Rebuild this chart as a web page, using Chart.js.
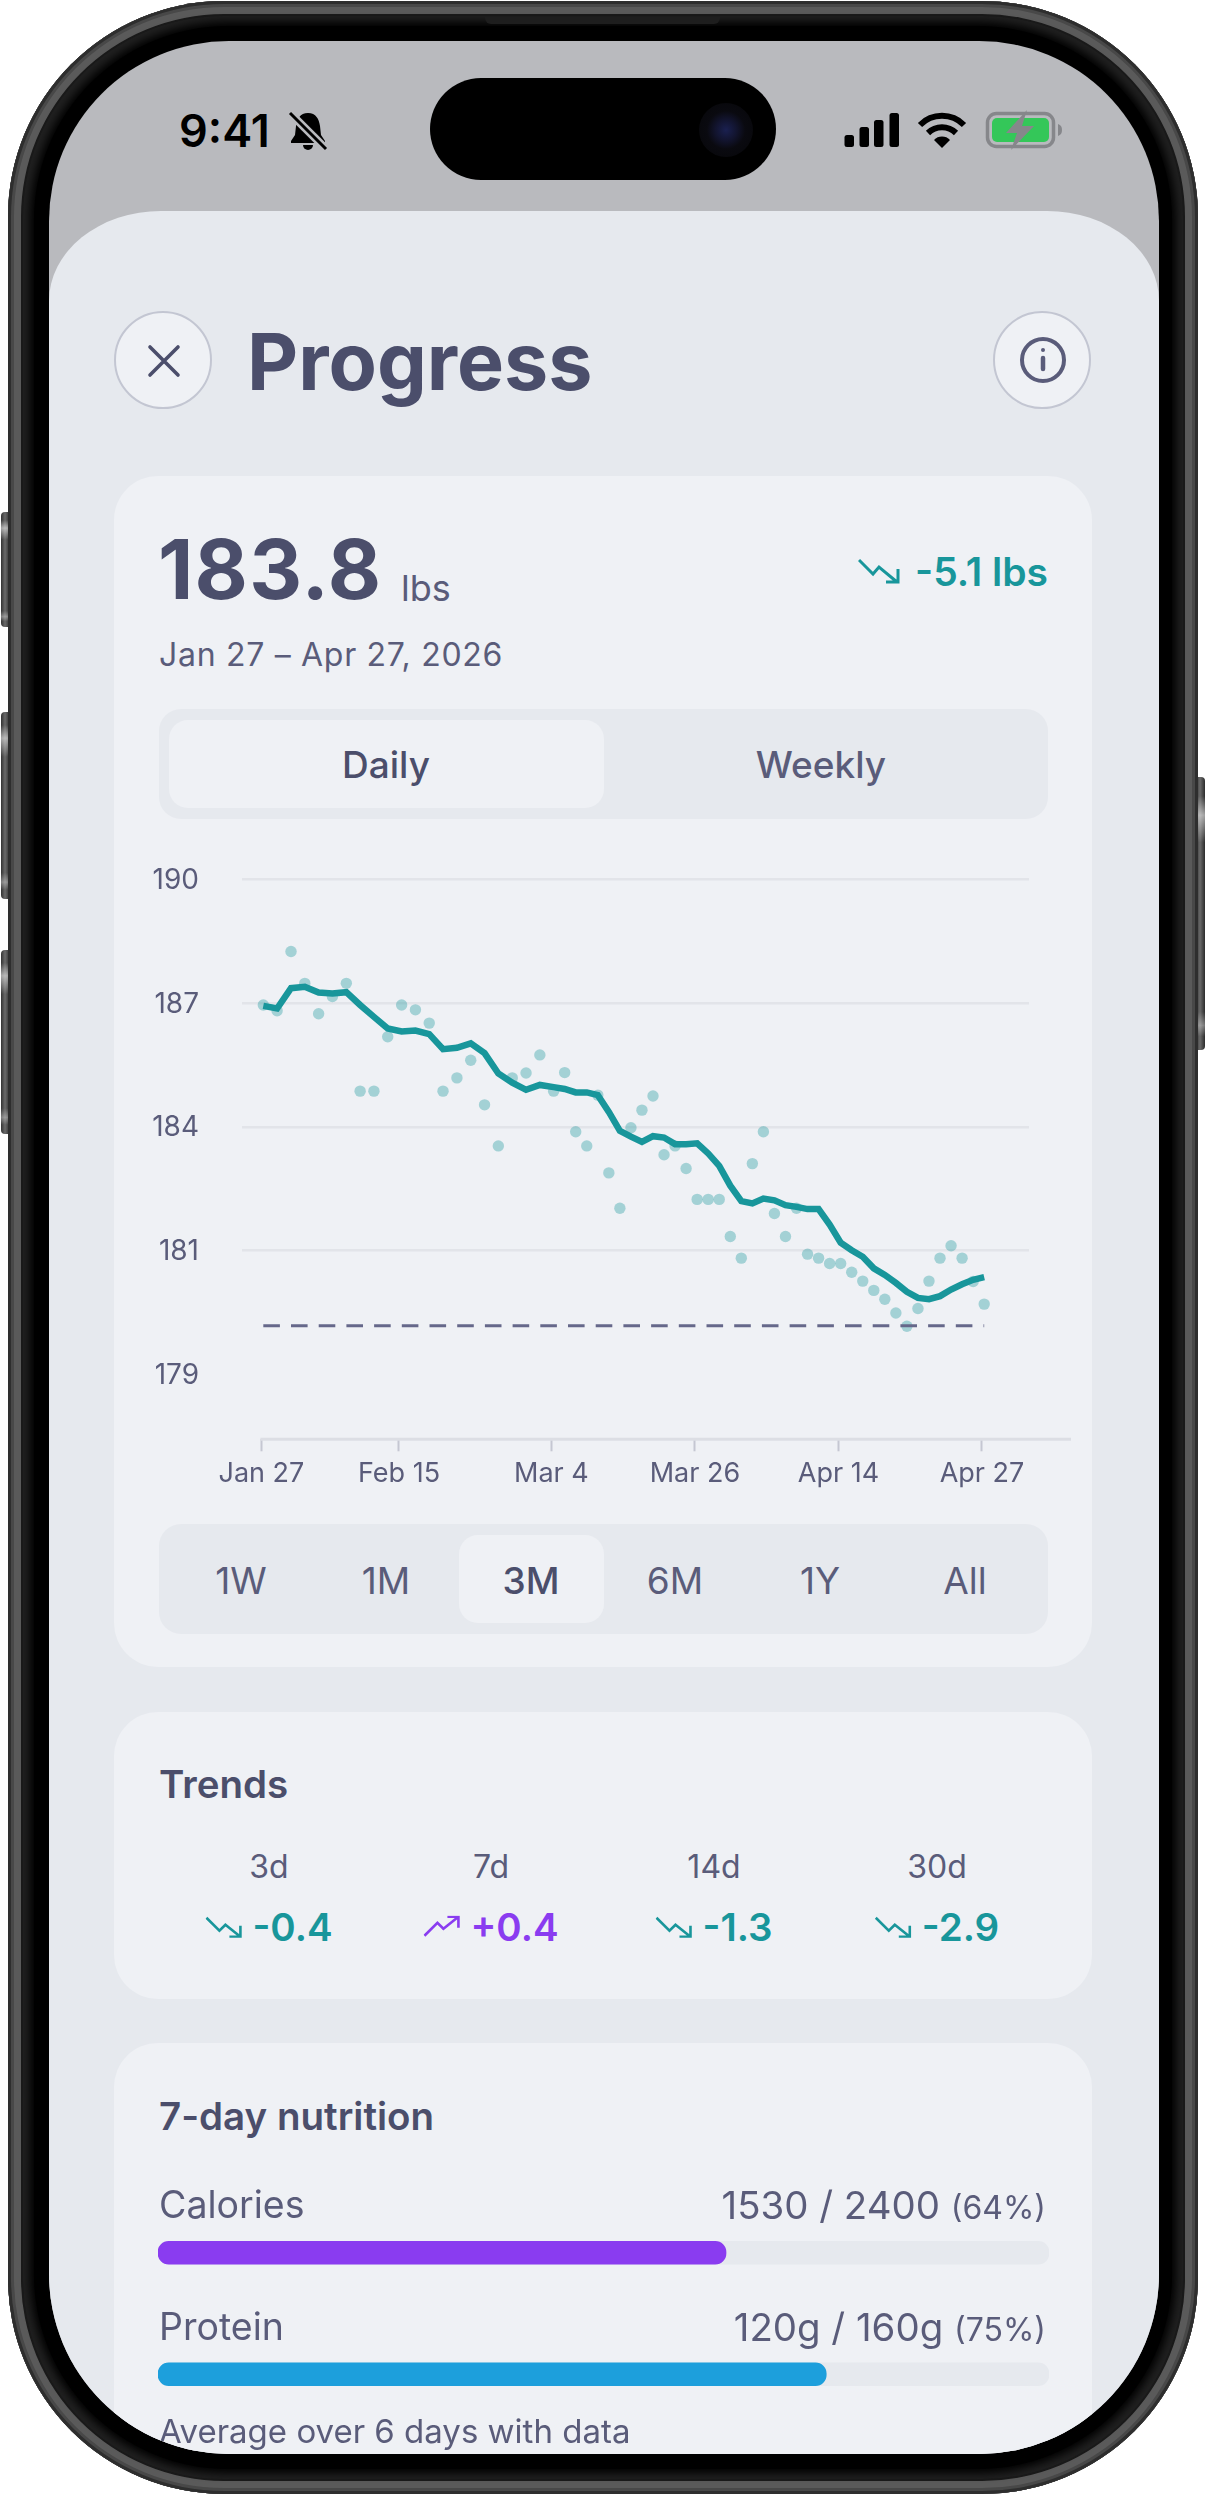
<!DOCTYPE html>
<html>
<head>
<meta charset="utf-8">
<title>Progress</title>
<script src="https://cdn.jsdelivr.net/npm/chart.js@4/dist/chart.umd.min.js"></script>
<style>
    html, body { margin: 0; padding: 0; background: #fff; }
    body { width: 1206px; height: 2495px; position: relative; overflow: hidden; font-family: Inter, sans-serif; color: #5a5c7a; }
    .abs { position: absolute; }
    .txt { position: absolute; line-height: 1; white-space: nowrap; transform: translateY(-50%); }
    .mid { transform: translate(-50%, -50%); }
    .end { transform: translate(-100%, -50%); }
    .dark { color: #4b4e6b; }
    .teal { color: #18969b; }
    .side { position: absolute; background: linear-gradient(180deg, transparent 7%, rgba(255,255,255,.55) 14%, transparent 24%, transparent 86%, rgba(255,255,255,.35) 91%, transparent 95%), linear-gradient(90deg, #333, #6a6a6a 45%, #2c2c2c); }
    #frame { left: 8px; top: 1px; width: 1190px; height: 2493px; border-radius: 216px; background: #202020;
             box-shadow: inset 0 0 0 3px #2e2e2e, inset 0 0 0 6px #484848, inset 0 0 0 13px #5a5a5a, inset 0 0 0 15px #1a1a1a; }
    #bezel { left: 34px; top: 26px; width: 1138px; height: 2443px; border-radius: 194px; background: #000; box-shadow: 0 0 9px 4px #000; }
    #screen { left: 49px; top: 41px; width: 1110px; height: 2413px; border-radius: 180px; overflow: hidden; background: #b9babe; }
    #page { left: -49px; top: -41px; width: 1206px; height: 2495px; }
    #sheet { left: 49px; top: 211px; width: 1110px; height: 2300px; background: #e6e9ee; border-radius: 112px 112px 0 0 / 90px 90px 0 0; }
    .card { position: absolute; left: 114px; width: 978px; background: #eff1f5; border-radius: 44px; }
    .round { position: absolute; width: 94px; height: 94px; border-radius: 50%; background: #eff1f5; border: 2.5px solid #c3c6d2; }
    .pill { position: absolute; background: #e6e9ee; border-radius: 22px; }
    .on { position: absolute; background: #eff1f5; border-radius: 19px; }
    .trend { position: absolute; display: flex; align-items: center; gap: 10px; line-height: 1; top: 1927px; transform: translate(-50%, -50%); font-size: 38.5px; font-weight: 600; white-space: nowrap; }
    canvas { position: absolute; display: block; }
</style>
</head>
<body>
<div class="side" style="left:1px;top:512px;width:9px;height:115px;border-radius:4px 0 0 4px"></div>
<div class="side" style="left:1px;top:712px;width:9px;height:187px;border-radius:4px 0 0 4px"></div>
<div class="side" style="left:1px;top:950px;width:9px;height:184px;border-radius:4px 0 0 4px"></div>
<div class="side" style="left:1196px;top:777px;width:9px;height:273px;border-radius:0 4px 4px 0"></div>

<div class="abs" id="frame"></div>
<div class="abs" id="bezel"></div>
<div class="abs" style="left:485px;top:17px;width:235px;height:7px;background:#1e1e1e;border-radius:0 0 6px 6px"></div>

<div class="abs" id="screen"><div class="abs" id="page">
    <div class="txt" style="left:179px;top:130px;font-size:45px;font-weight:600;color:#000">9:41</div>
    <svg class="abs" style="left:288px;top:111px" width="40" height="40" viewBox="0 0 40 40">
        <path d="M20 2c8 0 11 6 12 13l1 9 4 6v2H3v-2l4-6 1-9C9 8 12 2 20 2z" fill="#000"/>
        <path d="M15 34h10a5 5 0 0 1-10 0z" fill="#000"/>
        <path d="M2 2l36 36" stroke="#b9babe" stroke-width="8"/>
        <path d="M2 2l36 36" stroke="#000" stroke-width="3"/>
    </svg>

    <div class="abs" style="left:430px;top:78px;width:346px;height:102px;border-radius:51px;background:#000"></div>
    <div class="abs" style="left:699px;top:103px;width:54px;height:54px;border-radius:50%;background:radial-gradient(circle,#1a2050 0,#12142e 28%,#0a0a10 50%,#060608 100%)"></div>

    <svg class="abs" style="left:844px;top:112px" width="56" height="36" viewBox="0 0 56 36" fill="#000">
        <rect x="0.5" y="23" width="9.5" height="12" rx="2.5"/>
        <rect x="15.5" y="15" width="9.5" height="20" rx="2.5"/>
        <rect x="30" y="8" width="9.5" height="27" rx="2.5"/>
        <rect x="45.5" y="1" width="9.5" height="34" rx="2.5"/>
    </svg>
    <svg class="abs" style="left:917px;top:112px" width="50" height="36" viewBox="0 0 50 36" fill="none" stroke="#000" stroke-width="6">
        <path d="M3 13a31 31 0 0 1 44 0"/>
        <path d="M11 21a20 20 0 0 1 28 0"/>
        <path d="M17 28l8 8 8-8a11 11 0 0 0-16 0z" fill="#000" stroke="none"/>
    </svg>
    <svg class="abs" style="left:985px;top:110px" width="78" height="40" viewBox="0 0 78 40">
        <rect x="2.5" y="3.5" width="66" height="33" rx="9" fill="none" stroke="#86878b" stroke-width="3.5"/>
        <rect x="7" y="8" width="57" height="24" rx="5" fill="#34c759"/>
        <path d="M73 14c3 1 4 3 4 6s-1 5-4 6z" fill="#86878b"/>
        <path d="M42 0L21 23h11l-6 17 23-24H37z" fill="#86878b"/>
    </svg>

    <div class="abs" id="sheet"></div>

    <div class="round" style="left:114px;top:311px"></div>
    <svg class="abs" style="left:146px;top:343px" width="36" height="36" viewBox="0 0 36 36" stroke="#4b4e6b" stroke-width="3.6" stroke-linecap="round">
        <path d="M4 4l28 28M32 4L4 32"/>
    </svg>
    <div class="txt dark" style="left:247px;top:361px;font-size:79px;font-weight:700">Progress</div>
    <div class="round" style="left:993px;top:311px"></div>
    <svg class="abs" style="left:1017px;top:334px" width="52" height="52" viewBox="0 0 52 52" fill="none" stroke="#5a5c7a" stroke-width="4" stroke-linecap="round">
        <circle cx="26" cy="26" r="21"/>
        <path d="M26 24v11" stroke-width="4.5"/>
        <circle cx="26" cy="16" r="2" fill="#5a5c7a" stroke="none"/>
    </svg>

    <div class="card" style="top:476px;height:1191px"></div>
    <div class="txt dark" style="left:158px;top:570px;font-size:82px;font-weight:700;letter-spacing:1.2px">183.8</div>
    <div class="txt" style="left:401px;top:588px;font-size:36px">lbs</div>
    <svg class="abs" style="left:858px;top:558px" width="42" height="26" viewBox="0 0 42 26" fill="none" stroke="#18969b" stroke-width="3">
        <path d="M1 2l14 14 6-7 18 15M40 11v13H28"/>
    </svg>
    <div class="txt end teal" style="left:1048px;top:571px;font-size:39px;font-weight:600">-5.1 lbs</div>
    <div class="txt" style="left:159px;top:655px;font-size:32px;letter-spacing:0.7px">Jan 27 – Apr 27, 2026</div>

    <div class="pill" style="left:159px;top:709px;width:889px;height:110px"></div>
    <div class="on" style="left:169px;top:720px;width:435px;height:88px"></div>
    <div class="txt mid dark" style="left:386px;top:764px;font-size:37px;font-weight:500">Daily</div>
    <div class="txt mid" style="left:821px;top:764px;font-size:37px;font-weight:500">Weekly</div>

    <canvas id="weightChart" style="left:130px;top:860px"></canvas>

    <div class="pill" style="left:159px;top:1524px;width:889px;height:110px"></div>
    <div class="on" style="left:459px;top:1535px;width:145px;height:88px"></div>
    <div id="ranges"></div>

    <div class="card" style="top:1712px;height:287px"></div>
    <div class="txt dark" style="left:159px;top:1784px;font-size:38.5px;font-weight:600">Trends</div>
    <div id="trends"></div>

    <div class="card" style="top:2043px;height:600px"></div>
    <div class="txt dark" style="left:159px;top:2116px;font-size:38.5px;font-weight:600">7-day nutrition</div>
    <canvas id="nutritionChart" style="left:158px;top:2192px"></canvas>
    <div id="nutrition"></div>
    <div class="txt" style="left:159px;top:2431px;font-size:33px">Average over 6 days with data</div>
</div></div>

<script>
    // y axis: evenly spaced ticks, labels are rounded in the app
    const yTickValues = [190, 187.2, 184.4, 181.6, 178.8];
    const yTickLabels = ["190", "187", "184", "181", "179"];

    // x axis: labelled dates sit on the same position scale as the points
    const xTickValues = [-0.17, 12.29, 26.1, 39.1, 52.1, 65.1];
    const xTickLabels = ["Jan 27", "Feb 15", "Mar 4", "Mar 26", "Apr 14", "Apr 27"];

    // positions of the readings along the x axis
    const positions = [
        0, 1.25, 2.51, 3.76, 5.01, 6.26, 7.52, 8.77, 10.02, 11.27, 12.53, 13.78, 15.03, 16.28, 17.54, 18.79,
        20.04, 21.29, 22.55, 23.8, 25.05, 26.3, 27.3, 28.3, 29.3, 30.3, 31.3, 32.3, 33.3, 34.3, 35.3, 36.3,
        37.3, 38.3, 39.3, 40.3, 41.3, 42.3, 43.3, 44.3, 45.3, 46.3, 47.3, 48.3, 49.3, 50.3, 51.3, 52.3,
        53.3, 54.3, 55.3, 56.3, 57.3, 58.3, 59.3, 60.3, 61.3, 62.3, 63.3, 64.3, 65.3
    ];

    const dailyWeights = [
        187.16, 187.03, 188.37, 187.65, 186.96, 187.35, 187.65, 185.21, 185.21, 186.44, 187.16, 187.05, 186.75, 185.21, 185.51, 185.91,
        184.9, 183.97, 185.51, 185.62, 186.03, 185.21, 185.63, 184.29, 183.97, 185.12, 183.36, 182.56, 184.38, 184.78, 185.1, 183.77,
        183.97, 183.46, 182.76, 182.76, 182.76, 181.92, 181.43, 183.57, 184.29, 182.44, 181.92, 182.56, 181.52, 181.43, 181.31, 181.31,
        181.11, 180.91, 180.7, 180.5, 180.19, 179.89, 180.29, 180.91, 181.43, 181.71, 181.43, 180.9, 180.39
    ];

    const trendWeights = [
        187.14, 187.08, 187.54, 187.57, 187.44, 187.42, 187.45, 187.16, 186.89, 186.63, 186.56, 186.58, 186.5, 186.16, 186.19, 186.29,
        186.07, 185.61, 185.4, 185.24, 185.35, 185.3, 185.26, 185.18, 185.18, 185.12, 184.74, 184.31, 184.18, 184.06, 184.19, 184.16,
        184.01, 184.01, 184.03, 183.8, 183.52, 183.07, 182.72, 182.67, 182.78, 182.74, 182.63, 182.59, 182.54, 182.54, 182.19, 181.78,
        181.61, 181.46, 181.2, 181.05, 180.87, 180.67, 180.53, 180.5, 180.57, 180.72, 180.84, 180.94, 181
    ];

    const goalPositions = [0, 65.3];
    const goalWeights = [179.9, 179.9];

    const rangeLabels = ["1W", "1M", "3M", "6M", "1Y", "All"];
    const trendPeriods = ["3d", "7d", "14d", "30d"];
    const trendChanges = ["-0.4", "+0.4", "-1.3", "-2.9"];

    const nutritionNames = ["Calories", "Protein"];
    const nutritionValues = [1530, 120];
    const nutritionGoals = [2400, 160];
    const nutritionUnits = ["", "g"];
    const nutritionPercents = ["64%", "75%"];
    const nutritionColors = ["#8a3cf0", "#1d9fdc"];

    const labelColor = "#5a5c7a";

    function addText(parent, className, styleText, text)
    {
        const el = document.createElement("div");
        el.className = className;
        el.style.cssText = styleText;
        el.textContent = text;
        parent.appendChild(el);
        return el;
    }

    // range buttons
    const rangeCenters = [241, 386, 531, 675, 820, 965];
    const rangesBox = document.getElementById("ranges");
    rangeLabels.forEach((label, i) => {
        const active = label === "3M";
        addText(rangesBox, "txt mid" + (active ? " dark" : ""), `left:${rangeCenters[i]}px;top:1580px;font-size:37px;font-weight:${active ? 500 : 400}`, label);
    });

    // trends row
    const trendCenters = [269, 491, 714, 937];
    const trendsBox = document.getElementById("trends");
    trendPeriods.forEach((period, i) => {
        addText(trendsBox, "txt mid", `left:${trendCenters[i]}px;top:1867px;font-size:32px`, period);

        const rising = trendChanges[i].startsWith("+");
        const color = rising ? "#8a3cf0" : "#18969b";
        const path = rising ? "M1 20l13-13 6 6 15-12M24 1h11v11" : "M1 2l13 13 6-6 15 12M35 10v11H24";
        const row = addText(trendsBox, "trend", `left:${trendCenters[i]}px;color:${color}`, "");
        row.innerHTML = `<svg width="37" height="22" viewBox="0 0 37 22"><path d="${path}" fill="none" stroke="${color}" stroke-width="2.6"/></svg><span>${trendChanges[i]}</span>`;
    });

    // nutrition labels
    const nutritionCenters = [2205, 2327];
    const nutritionBox = document.getElementById("nutrition");
    nutritionNames.forEach((name, i) => {
        addText(nutritionBox, "txt", `left:159px;top:${nutritionCenters[i]}px;font-size:37.5px`, name);
        const row = addText(nutritionBox, "txt end", `left:1046px;top:${nutritionCenters[i]}px;font-size:38.4px`,
            `${nutritionValues[i]}${nutritionUnits[i]} / ${nutritionGoals[i]}${nutritionUnits[i]} `);
        const small = document.createElement("span");
        small.style.fontSize = "32px";
        small.textContent = "(" + nutritionPercents[i] + ")";
        row.appendChild(small);
    });

    // chart area edges are kept fixed, the x axis line runs past the grid lines
    const axisLine = {
        id: "axisLine",
        beforeDatasetsDraw(chart) {
            const { ctx, scales } = chart;
            const y = scales.y.bottom;
            ctx.save();
            ctx.strokeStyle = "#dcdee4";
            ctx.lineWidth = 3;
            ctx.beginPath();
            ctx.moveTo(scales.x.getPixelForValue(xTickValues[0]) - 1, y);
            ctx.lineTo(scales.x.right + 42, y);
            ctx.stroke();
            ctx.restore();
        },
    };

    function toPoints(xs, ys)
    {
        return xs.map((x, i) => ({ x: x, y: ys[i] }));
    }

    const weightCanvas = document.getElementById("weightChart");
    weightCanvas.width = 1000;
    weightCanvas.height = 670;

    new Chart(weightCanvas, {
        type: "line",
        data: {
            datasets: [
                {
                    label: "Trend",
                    data: toPoints(positions, trendWeights),
                    borderColor: "#18969b",
                    borderWidth: 6.5,
                    pointRadius: 0,
                    tension: 0,
                    order: 1,
                },
                {
                    label: "Goal",
                    data: toPoints(goalPositions, goalWeights),
                    borderColor: "#66688a",
                    borderWidth: 3,
                    borderDash: [16.6, 11.1],
                    pointRadius: 0,
                    order: 2,
                },
                {
                    label: "Daily",
                    data: toPoints(positions, dailyWeights),
                    showLine: false,
                    pointRadius: 5.7,
                    pointBorderWidth: 0,
                    pointBackgroundColor: "rgba(24, 150, 155, 0.35)",
                    order: 3,
                },
            ],
        },
        options: {
            responsive: false,
            animation: false,
            events: [],
            layout: { padding: { top: 19.5, right: 101, left: 0, bottom: 0 } },
            plugins: { legend: { display: false }, tooltip: { enabled: false } },
            scales: {
                x: {
                    type: "linear",
                    min: -1.93,
                    max: 69.36,
                    border: { display: false },
                    grid: { drawOnChartArea: false, drawTicks: true, tickLength: 12, tickColor: "#c5c7d2", tickWidth: 2 },
                    afterBuildTicks: (scale) => { scale.ticks = xTickValues.map((v) => ({ value: v })); },
                    afterFit: (scale) => { scale.height = 90.7; scale.paddingLeft = 0; scale.paddingRight = 0; },
                    ticks: {
                        autoSkip: false,
                        maxRotation: 0,
                        padding: 6,
                        color: labelColor,
                        font: { family: "Inter", size: 27 },
                        callback: (value, index) => xTickLabels[index],
                    },
                },
                y: {
                    min: 177.33,
                    max: 190,
                    border: { display: false },
                    grid: {
                        drawTicks: false,
                        lineWidth: 2.5,
                        color: (c) => (c.index === yTickValues.length - 1 ? "rgba(0,0,0,0)" : "#e2e4e9"),
                    },
                    afterBuildTicks: (scale) => { scale.ticks = yTickValues.map((v) => ({ value: v })); },
                    afterFit: (scale) => { scale.width = 112; scale.paddingTop = 0; scale.paddingBottom = 0; },
                    ticks: {
                        autoSkip: false,
                        padding: 43,
                        labelOffset: 1,
                        color: labelColor,
                        font: { family: "Inter", size: 28 },
                        callback: (value, index) => yTickLabels[index],
                    },
                },
            },
        },
        plugins: [axisLine],
    });

    const nutritionCanvas = document.getElementById("nutritionChart");
    nutritionCanvas.width = 891;
    nutritionCanvas.height = 243;

    new Chart(nutritionCanvas, {
        type: "bar",
        data: {
            labels: nutritionNames,
            datasets: [
                {
                    label: "Eaten",
                    data: nutritionValues.map((v, i) => (v / nutritionGoals[i]) * 100),
                    backgroundColor: nutritionColors,
                    barThickness: 22.7,
                    borderRadius: 11,
                    borderSkipped: false,
                    grouped: false,
                    order: 1,
                },
                {
                    label: "Goal",
                    data: nutritionGoals.map(() => 100),
                    backgroundColor: "#e6e9ee",
                    barThickness: 22.7,
                    borderRadius: 11,
                    borderSkipped: false,
                    grouped: false,
                    order: 2,
                },
            ],
        },
        options: {
            indexAxis: "y",
            responsive: false,
            animation: false,
            events: [],
            plugins: { legend: { display: false }, tooltip: { enabled: false } },
            scales: {
                x: { display: false, min: 0, max: 100 },
                y: { display: false },
            },
        },
    });
</script>
</body>
</html>
